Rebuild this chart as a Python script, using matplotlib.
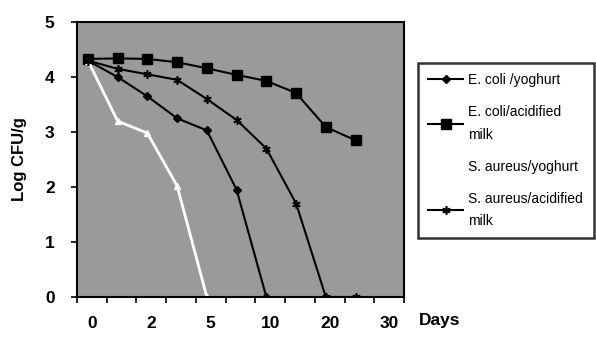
import numpy as np
import matplotlib
matplotlib.use('Agg')
import matplotlib.pyplot as plt

plt.rcParams['font.family'] = ['Liberation Sans', 'DejaVu Sans']

# tick labels on the x axis (days) and y range
day_labels = ['0', '2', '5', '10', '20', '30']
y_ticks = [0, 1, 2, 3, 4, 5]

# log CFU/g per sampling point
ecoli_yoghurt = [4.30, 4.00, 3.65, 3.25, 3.03, 1.95, 0.0]
ecoli_acid = [4.33, 4.34, 4.33, 4.27, 4.16, 4.04, 3.93, 3.71, 3.09, 2.85]
saureus_yoghurt = [4.30, 3.20, 2.98, 2.02, 0.0]
saureus_acid = [4.30, 4.15, 4.05, 3.95, 3.60, 3.22, 2.70, 1.70, 0.0, 0.0]

labels = ['E. coli /yoghurt', 'E. coli/acidified\nmilk',
          'S. aureus/yoghurt', 'S. aureus/acidified\nmilk']

offset = 0.37  # points sit a bit right of each category tick

fig = plt.figure(figsize=(5.96, 3.40), dpi=100)
ax = fig.add_axes([0.129, 0.1265, 0.549, 0.8085])
ax.set_facecolor('#9a9a9a')

def xs(vals):
    return np.arange(len(vals)) + offset

ax.plot(xs(ecoli_yoghurt), ecoli_yoghurt, color='black', lw=1.5,
        marker='D', ms=4, label=labels[0])
ax.plot(xs(ecoli_acid), ecoli_acid, color='black', lw=1.5,
        marker='s', ms=6.5, label=labels[1])
ax.plot(xs(saureus_yoghurt), saureus_yoghurt, color='white', lw=2,
        marker='^', ms=5, label=labels[2])
ax.plot(xs(saureus_acid), saureus_acid, color='black', lw=1.5,
        marker=(6, 2, 0), ms=6, mew=1.2, label=labels[3])

ax.set_xlim(0, 11)
ax.set_ylim(0, 5)
ax.set_xticks(np.arange(0, 12))
ax.set_xticklabels([])
ax.set_xticks(np.arange(len(day_labels)) * 2 + 0.5, minor=True)
ax.set_xticklabels(day_labels, minor=True, fontsize=12.5, fontweight='bold')
ax.tick_params(axis='x', which='major', direction='out', length=4, width=1.2)
ax.tick_params(axis='x', which='minor', length=0, pad=14)
ax.set_yticks(y_ticks)
ax.set_yticklabels([str(v) for v in y_ticks], fontsize=12.5, fontweight='bold')
ax.tick_params(axis='y', direction='out', length=4, width=1.2, pad=12)
for s in ax.spines.values():
    s.set_linewidth(1.5)

ax.set_ylabel('Log CFU/g', fontsize=12, fontweight='bold', labelpad=13)
fig.text(0.703, 0.045, 'Days', fontsize=12.5, fontweight='bold')

leg = ax.legend(loc='upper left', bbox_to_anchor=(0.701, 0.815),
                bbox_transform=fig.transFigure, fontsize=10,
                frameon=True, fancybox=False, edgecolor='black',
                handlelength=2.5, handletextpad=0.4, labelspacing=1.3,
                borderpad=0.75, borderaxespad=0)
for t in leg.get_texts():
    t.set_linespacing(1.75)
leg.get_frame().set_linewidth(1.8)

fig.savefig('out.png', dpi=100)
